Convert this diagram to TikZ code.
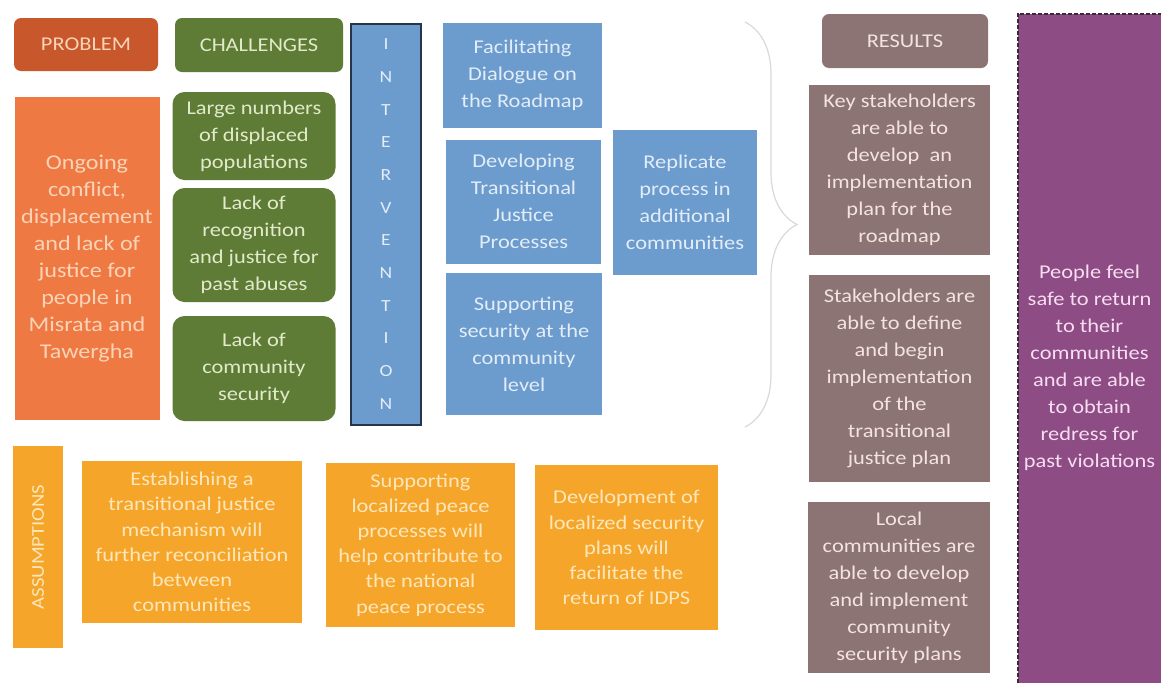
\documentclass[tikz,border=0pt]{standalone}
\usepackage{fontspec}
\setmainfont{Carlito}[FakeStretch=1.15]
\usetikzlibrary{decorations.pathreplacing}
\definecolor{probdark}{HTML}{C8572B}
\definecolor{probfill}{HTML}{EF7942}
\definecolor{probtext}{HTML}{FAD3B8}
\definecolor{chalfill}{HTML}{5E7C35}
\definecolor{chaltext}{HTML}{E2EACB}
\definecolor{intfill}{HTML}{6C9BCD}
\definecolor{intline}{HTML}{25354A}
\definecolor{inttext}{HTML}{E2EDF8}
\definecolor{resfill}{HTML}{8B7473}
\definecolor{restext}{HTML}{F4E3DE}
\definecolor{goalfill}{HTML}{8D4C84}
\definecolor{goaltext}{HTML}{F7DDF1}
\definecolor{goalline}{HTML}{3A2A36}
\definecolor{asmfill}{HTML}{F5A52A}
\definecolor{asmtext}{HTML}{FDE7BA}
\definecolor{bracegrey}{HTML}{D9D9D9}
\tikzset{
  blk/.style={inner sep=0pt, align=center, font=\fontsize{19.5}{27}\selectfont},
  hdr/.style={blk, rounded corners=7pt, font=\fontsize{19.5}{22}\selectfont},
  probbox/.style={blk, fill=probfill, text=probtext, font=\fontsize{21}{27}\selectfont},
  chalbox/.style={blk, fill=chalfill, text=chaltext, rounded corners=12pt},
  intbox/.style={blk, fill=intfill, text=inttext},
  resbox/.style={blk, fill=resfill, text=restext},
  asmbox/.style={blk, fill=asmfill, text=asmtext, font=\fontsize{19.5}{25.2}\selectfont},
}
\begin{document}
\begin{tikzpicture}[x=1pt,y=-1pt]
\useasboundingbox[fill=white] (0,0) rectangle (1161,683);

% column headers
\node[hdr, fill=probdark, text=probtext, minimum width=144pt, minimum height=53pt] (probhead) at (86,44.5) {PROBLEM};
\node[hdr, fill=chalfill, text=chaltext, minimum width=168pt, minimum height=54pt] (chalhead) at (259,45) {CHALLENGES};
\node[hdr, fill=resfill, text=restext, minimum width=166pt, minimum height=54pt] (reshead) at (905,41) {RESULTS};

% problem
\node[probbox, minimum width=145pt, minimum height=323pt] (problem) at (87,258.5)
  {Ongoing\\conflict,\\displacement\\and lack of\\justice for\\people in\\Misrata and\\Tawergha};

% challenges
\node[chalbox, minimum width=163pt, minimum height=88pt] (chal1) at (254,136)
  {Large numbers\\of displaced\\populations};
\node[chalbox, minimum width=163pt, minimum height=114pt] (chal2) at (254,245)
  {Lack of\\recognition\\and justice for\\past abuses};
\node[chalbox, minimum width=163pt, minimum height=105pt] (chal3) at (254,368.5)
  {Lack of\\community\\security};

% intervention column
\node[blk, fill=intfill, draw=intline, line width=2pt, minimum width=70pt, minimum height=401pt] (intcol) at (386,224) {};
\node[blk, text=inttext, font=\fontsize{17}{32.7}\selectfont] (intword) at (intcol.center)
  {I\\N\\T\\E\\R\\V\\E\\N\\T\\I\\O\\N};

% intervention activities
\node[intbox, minimum width=159pt, minimum height=105pt] (dialogue) at (522.5,75.5)
  {Facilitating\\Dialogue on\\the Roadmap};
\node[intbox, minimum width=155pt, minimum height=124pt] (justice) at (523.5,201.5)
  {Developing\\Transitional\\Justice\\Processes};
\node[intbox, minimum width=156pt, minimum height=142pt] (security) at (524,344)
  {Supporting\\security at the\\community\\level};
\node[intbox, minimum width=144pt, minimum height=145pt] (replicate) at (685,202)
  {Replicate\\process in\\additional\\communities};

% brace gathering the interventions
\coordinate (bracetop) at (745,22);
\coordinate (bracebot) at (745,427);
\draw[bracegrey, line width=1.2pt, decorate, decoration={brace, amplitude=52pt}] (bracetop) -- (bracebot);

% results
\node[resbox, minimum width=181pt, minimum height=170pt] (res1) at (899.5,170)
  {Key stakeholders\\are able to\\develop\ \ an\\implementation\\plan for the\\roadmap};
\node[resbox, minimum width=181pt, minimum height=207pt] (res2) at (899.5,378.5)
  {Stakeholders are\\able to define\\and begin\\implementation\\of the\\transitional\\justice plan};
\node[resbox, minimum width=182pt, minimum height=171pt] (res3) at (899,587.5)
  {Local\\communities are\\able to develop\\and implement\\community\\security plans};

% overall goal
\node[blk, fill=goalfill, minimum width=143pt, minimum height=669pt] (goal) at (1089.5,348.5) {};
\draw[goalline, dash pattern=on 4pt off 2pt, line width=1.5pt] (goal.south west) -- (goal.north west) -- (goal.north east);
\node[blk, text=goaltext] (goaltxt) at (1089.5,368)
  {People feel\\safe to return\\to their\\communities\\and are able\\to obtain\\redress for\\past violations};

% assumptions
\node[asmbox, minimum width=50pt, minimum height=202pt] (asmhead) at (38,547) {};
\node[blk, text=asmtext, rotate=90, font=\fontsize{18}{20}\selectfont] (asmword) at (asmhead.center) {ASSUMPTIONS};
\node[asmbox, minimum width=220pt, minimum height=162pt] (asm1) at (192,542)
  {Establishing a\\transitional justice\\mechanism will\\further reconciliation\\between\\communities};
\node[asmbox, minimum width=189pt, minimum height=164pt] (asm2) at (420.5,545)
  {Supporting\\localized peace\\processes will\\help contribute to\\the national\\peace process};
\node[asmbox, minimum width=183pt, minimum height=165pt] (asm3) at (626.5,547.5)
  {Development of\\localized security\\plans will\\facilitate the\\return of IDPS};
\end{tikzpicture}
\end{document}
